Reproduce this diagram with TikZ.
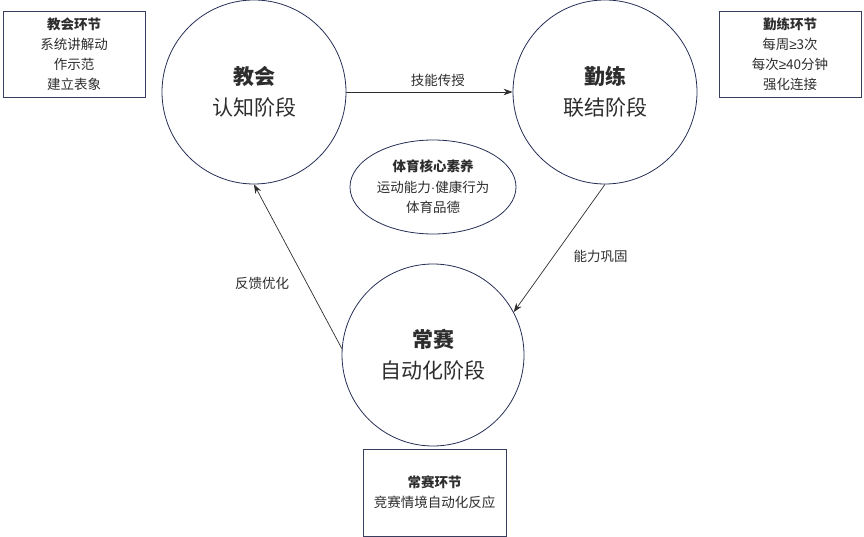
\documentclass[tikz,border=0pt]{standalone}
\usepackage{fontspec}
\setmainfont{Noto Sans CJK SC}
\newfontfamily\symfont{Liberation Sans}
\usetikzlibrary{shapes.geometric, arrows.meta}

\definecolor{navy}{RGB}{38,46,86}
\definecolor{ink}{RGB}{45,45,45}

\begin{document}
\begin{tikzpicture}[x=1pt, y=-1pt,
		stage/.style = {circle, draw=navy, line width=0.8pt, inner sep=0pt, text=ink, align=center, font=\fontsize{21}{31}\selectfont},
		stepbox/.style = {rectangle, draw=navy!80!gray, line width=0.8pt, minimum width=142pt, minimum height=86pt, text=ink, align=center, font=\fontsize{13.5}{20}\selectfont},
		flow/.style = {-{Stealth[length=9pt, width=6.5pt]}, ink, line width=0.7pt},
		flow label/.style = {text=ink, font=\fontsize{13.5}{16}\selectfont}]
		\useasboundingbox (0,0) rectangle (864,537);
		
		% stages
		\node [stage, minimum size=184pt] (teach) at (254,92) {\textbf{教会}\\认知阶段};
		\node [stage, minimum size=184pt] (practice) at (605,92) {\textbf{勤练}\\联结阶段};
		\node [stage, minimum size=182pt] (compete) at (433,355) {\textbf{常赛}\\自动化阶段};
		
		\node [ellipse, draw=navy, line width=0.8pt, minimum width=166pt, minimum height=94pt, inner sep=0pt, text=ink, align=center, font=\fontsize{13.5}{20.5}\selectfont] (core) at (433,187) {\textbf{体育核心素养}\\运动能力{\symfont ·}健康行为\\体育品德};
		
		% notes
		\node [stepbox] (teach note) at (74,54) {\textbf{教会环节}\\系统讲解动\\作示范\\建立表象};
		\node [stepbox] (practice note) at (790,54) {\textbf{勤练环节}\\每周{\symfont ≥}3次\\每次{\symfont ≥}40分钟\\强化连接};
		\node [stepbox, minimum width=143pt, minimum height=87pt] (compete note) at (434.5,492.5) {\textbf{常赛环节}\\竞赛情境自动化反应};
		
		%cycle
		\draw [flow] (teach) -- (practice) node [flow label, pos=0.55, above=2pt] {技能传授};
		\draw [flow] (practice.south) -- (compete.28) node [flow label, pos=0.56, right=16pt] {能力巩固};
		\draw [flow] (compete.176) -- (teach.south) node [flow label, pos=0.4, left=14pt] {反馈优化};
	\end{tikzpicture}
\end{document}
